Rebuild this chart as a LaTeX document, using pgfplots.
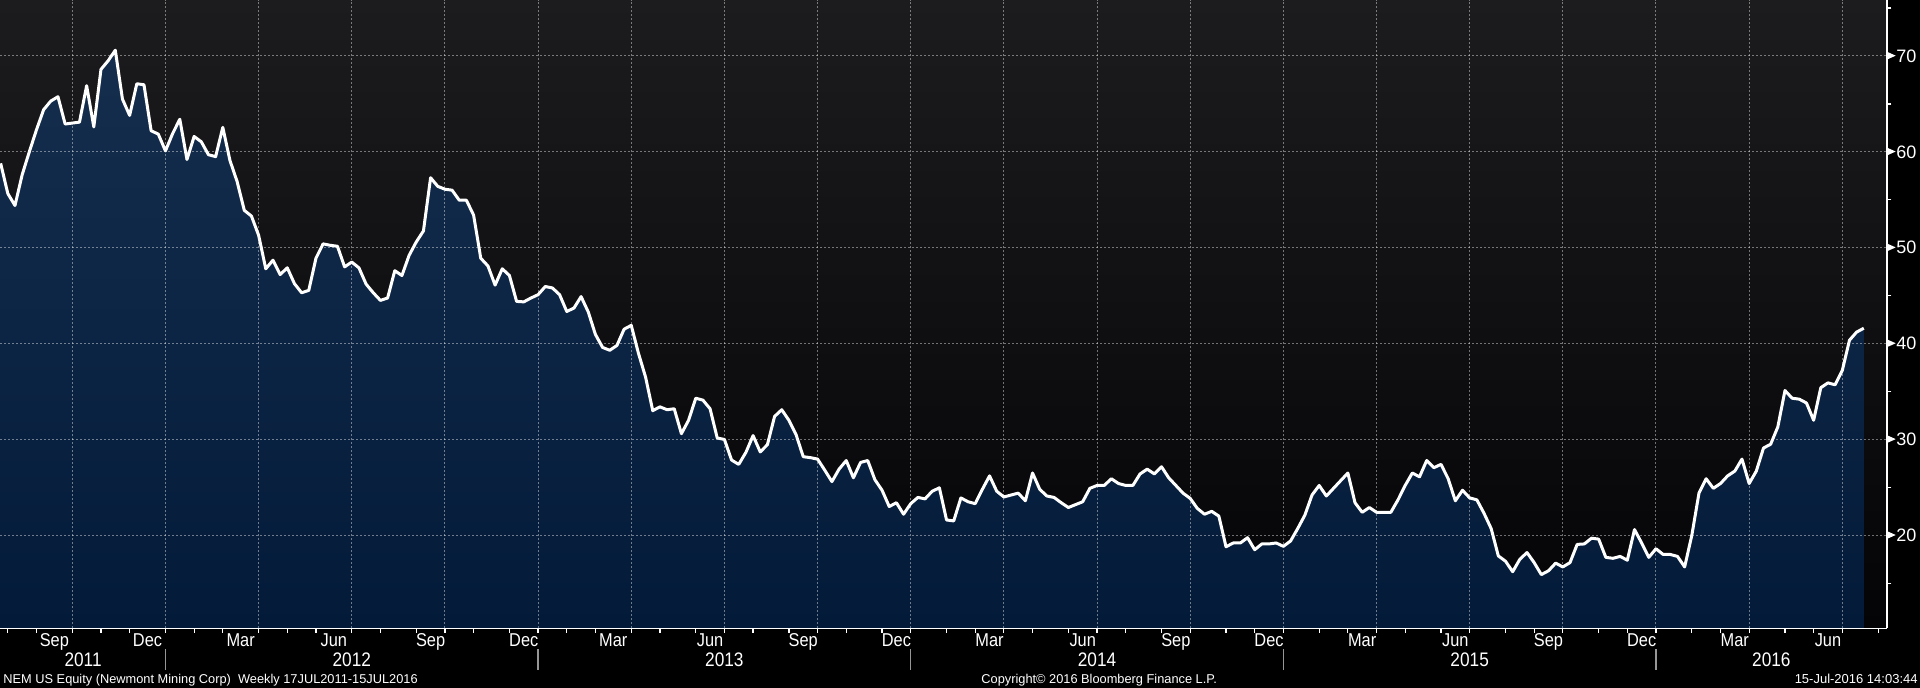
\documentclass[border=0pt]{standalone}
\usepackage{pgfplots}
\usepackage{pgfplotstable}
\pgfplotsset{compat=1.18}
\usepackage{fontspec}
\setmainfont{Liberation Sans}
\newfontfamily\bbnarrow[FakeStretch=0.88]{Liberation Sans}
\definecolor{bgtop}{RGB}{28,28,30}
\definecolor{bgbot}{RGB}{4,4,7}
\definecolor{filltop}{RGB}{22,46,78}
\definecolor{fillbot}{RGB}{3,27,57}
\definecolor{divgray}{RGB}{150,150,150}
\newcommand{\tri}{\raisebox{1.4pt}{\tikz\fill[white] (0,0)--(0,3.7pt)--(4.15pt,1.85pt)--cycle;}\hspace{0.35pt}}
\pgfplotstableread{
i v
0 58.8
1 55.65
2 54.4
3 57.6
4 60.0
5 62.3
6 64.4
7 65.3
8 65.75
9 62.9
10 63.0
11 63.1
12 66.9
13 62.6
14 68.6
15 69.5
16 70.6
17 65.5
18 63.8
19 67.1
20 67.0
21 62.2
22 61.85
23 60.1
24 61.9
25 63.4
26 59.2
27 61.6
28 61.05
29 59.7
30 59.5
31 62.55
32 59.1
33 56.9
34 53.9
35 53.3
36 51.3
37 47.8
38 48.7
39 47.2
40 47.9
41 46.25
42 45.3
43 45.55
44 48.9
45 50.4
46 50.25
47 50.15
48 48.0
49 48.5
50 47.9
51 46.2
52 45.3
53 44.5
54 44.75
55 47.6
56 47.1
57 49.2
58 50.6
59 51.75
60 57.3
61 56.4
62 56.1
63 56.0
64 54.95
65 54.95
66 53.4
67 48.9
68 48.1
69 46.1
70 47.8
71 47.1
72 44.4
73 44.35
74 44.75
75 45.1
76 45.95
77 45.8
78 45.1
79 43.35
80 43.7
81 44.9
82 43.3
83 40.95
84 39.6
85 39.3
86 39.8
87 41.5
88 41.9
89 39.0
90 36.5
91 33.0
92 33.4
93 33.1
94 33.2
95 30.6
96 32.0
97 34.3
98 34.1
99 33.2
100 30.15
101 30.0
102 27.85
103 27.4
104 28.65
105 30.4
106 28.7
107 29.45
108 32.4
109 33.1
110 32.0
111 30.5
112 28.2
113 28.1
114 27.95
115 26.8
116 25.6
117 26.9
118 27.8
119 26.0
120 27.6
121 27.8
122 25.8
123 24.7
124 23.0
125 23.4
126 22.2
127 23.3
128 23.95
129 23.8
130 24.6
131 24.95
132 21.6
133 21.5
134 23.9
135 23.5
136 23.3
137 24.8
138 26.2
139 24.6
140 24.0
141 24.2
142 24.4
143 23.6
144 26.5
145 24.8
146 24.1
147 23.95
148 23.4
149 22.9
150 23.2
151 23.5
152 24.9
153 25.2
154 25.2
155 25.9
156 25.4
157 25.2
158 25.2
159 26.4
160 26.9
161 26.4
162 27.15
163 26.0
164 25.2
165 24.4
166 23.85
167 22.8
168 22.2
169 22.5
170 22.0
171 18.8
172 19.2
173 19.2
174 19.75
175 18.5
176 19.1
177 19.1
178 19.2
179 18.85
180 19.4
181 20.7
182 22.1
183 24.2
184 25.2
185 24.1
186 24.9
187 25.7
188 26.5
189 23.4
190 22.4
191 22.9
192 22.4
193 22.4
194 22.4
195 23.7
196 25.2
197 26.5
198 26.1
199 27.8
200 27.05
201 27.4
202 25.9
203 23.6
204 24.7
205 23.9
206 23.7
207 22.3
208 20.7
209 17.85
210 17.3
211 16.2
212 17.5
213 18.2
214 17.15
215 15.9
216 16.3
217 17.1
218 16.7
219 17.15
220 19.05
221 19.1
222 19.7
223 19.6
224 17.7
225 17.6
226 17.8
227 17.4
228 20.6
229 19.2
230 17.7
231 18.6
232 18.0
233 18.0
234 17.8
235 16.7
236 20.0
237 24.4
238 25.9
239 24.9
240 25.4
241 26.2
242 26.7
243 27.95
244 25.4
245 26.7
246 29.1
247 29.5
248 31.3
249 35.1
250 34.3
251 34.2
252 33.8
253 32.0
254 35.4
255 35.9
256 35.7
257 37.2
258 40.35
259 41.2
260 41.6
}\nemdata
\begin{document}
\begin{tikzpicture}
\path[use as bounding box] (0,0) rectangle (960pt,344pt);
\fill[black] (0,0) rectangle (960pt,344pt);
\begin{axis}[
  at={(0pt,29.85pt)}, anchor=south west,
  width=943.5pt, height=314.15pt, scale only axis,
  xmin=-0.09, xmax=263.24, ymin=10.30, ymax=75.84,
  clip mode=individual,
  axis x line*=bottom, axis y line*=right,
  axis line style={white, line width=0.75pt},
  axis background/.style={top color=bgtop, bottom color=bgbot},
  axis on top,
  tick align=outside,
  major tick length=0pt, minor tick length=2.2pt,
  tick style={white, line width=0.6pt},
  xtick={7.5,20.5,33.5,46.5,60,73,85.5,99,112,125,138,151,164,177,190,203,216,229,242,255},
  xticklabels={Sep,Dec,Mar,Jun,Sep,Dec,Mar,Jun,Sep,Dec,Mar,Jun,Sep,Dec,Mar,Jun,Sep,Dec,Mar,Jun},
  minor xtick={1,5,10,14,18,23,27,31,36,40,44,49,53,58,62,66,71,75,79,83,88,92,97,101,105,110,114,118,123,127,132,136,140,144,149,153,157,162,166,171,175,179,184,188,192,196,201,205,210,214,218,223,227,231,236,240,244,249,253,257,262},
  extra x ticks={10,23,36,49,62,75,88,101,114,127,140,153,166,179,192,205,218,231,244,257},
  extra x tick labels={},
  extra x tick style={grid=major},
  xticklabel style={anchor=base, inner sep=0pt, yshift=-9.2pt, text=white, font=\bbnarrow\fontsize{9.3}{10}\selectfont},
  ytick={20,30,40,50,60,70},
  yticklabels={{\tri 20},{\tri 30},{\tri 40},{\tri 50},{\tri 60},{\tri 70}},
  minor ytick={15,25,35,45,55,65,75},
  ymajorgrids,
  yticklabel style={anchor=west, inner sep=0pt, text=white, font=\fontsize{9}{10}\selectfont},
  major grid style={draw=white, draw opacity=0.42, line width=0.5pt, dash pattern=on 1pt off 1pt},
]
\addplot[draw=none, top color=filltop, bottom color=fillbot] table[x=i, y=v] {\nemdata} \closedcycle;
\addplot[white, line width=1.5pt, line join=round] table[x=i, y=v] {\nemdata};
\foreach \xx in {23,75,127,179,231}{
  \edef\tmp{\noexpand\draw[divgray, line width=0.6pt] ([yshift=-10.5pt]axis cs:\xx,10.30) -- ([yshift=-20.85pt]axis cs:\xx,10.30);}\tmp
}
\foreach \xx/\yy in {11.5/2011,49/2012,101/2013,153/2014,205/2015,247.1/2016}{
  \edef\tmp{\noexpand\node[anchor=base, inner sep=0pt, text=white, font=\noexpand\bbnarrow\noexpand\fontsize{9.8}{10}\noexpand\selectfont] at ([yshift=-19.2pt]axis cs:\xx,10.30) {\yy};}\tmp
}
\end{axis}
\node[anchor=base west, inner sep=0pt, text=white, font=\fontsize{6.4}{7}\selectfont] at (1.5pt,2pt) {NEM US Equity (Newmont Mining Corp)\ \ Weekly 17JUL2011-15JUL2016};
\node[anchor=base west, inner sep=0pt, text=white, font=\fontsize{6.4}{7}\selectfont] at (490.5pt,2pt) {Copyright© 2016 Bloomberg Finance L.P.};
\node[anchor=base east, inner sep=0pt, text=white, font=\fontsize{6.5}{7}\selectfont] at (959pt,2pt) {15-Jul-2016 14:03:44};
\end{tikzpicture}
\end{document}
